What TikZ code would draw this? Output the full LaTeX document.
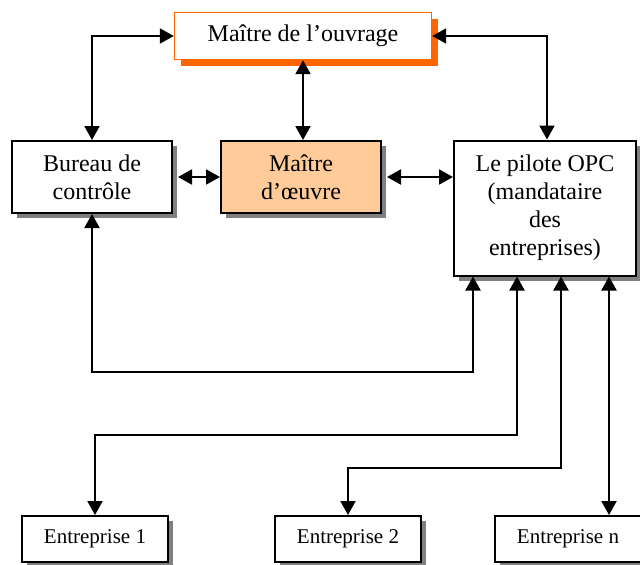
\documentclass[tikz,border=0pt]{standalone}
\usepackage{fontspec}
\setmainfont{Liberation Serif}
\usetikzlibrary{arrows.meta,shadows,positioning}
\definecolor{O}{RGB}{255,102,0}
\definecolor{P}{RGB}{255,204,153}
\definecolor{S}{RGB}{128,128,128}
\tikzstyle{plain} = [rectangle, draw=black, line width=2pt, fill=white,
align=center, inner sep=0pt,
font=\fontsize{24}{28}\selectfont]
\tikzstyle{box} = [plain,
drop shadow={shadow xshift=5pt, shadow yshift=-5pt, fill=S, opacity=1}]
\tikzstyle{topbox} = [plain, draw=O, line width=1.4pt,
drop shadow={shadow xshift=6pt, shadow yshift=-6pt, fill=O, opacity=1}]
\tikzstyle{firm} = [box, font=\fontsize{21}{25}\selectfont,
minimum width=146pt, minimum height=46pt]
\tikzstyle{link} = [<->, line width=2pt]

\begin{document}
\begin{tikzpicture}[x=1pt, y=-1pt, >={Triangle[length=14pt,width=15pt]}]
    \useasboundingbox (0,0) rectangle (640,565);

    \node[topbox, minimum width=257pt, minimum height=47pt] (mo) at (303,36) {Maître de l’ouvrage};
    \node[box, minimum width=160pt, minimum height=72pt] (bc) at (92,177) {Bureau de\\contrôle};
    \node[box, fill=P, minimum width=160pt, minimum height=72pt] (moe) at (301,177) {Maître\\d’œuvre};
    \node[box, minimum width=182pt, minimum height=135pt] (opc) at (545,208) {Le pilote OPC\\(mandataire\\des\\entreprises)};

    \node[firm] (e1) at (95,539) {Entreprise 1};
    \node[firm] (e2) at (348,539) {Entreprise 2};
    \node[firm] (en) at (568,539) {Entreprise n};

    \coordinate (p1) at ([xshift=-72pt]opc.south);
    \coordinate (p2) at ([xshift=-28pt]opc.south);
    \coordinate (p3) at ([xshift=16pt]opc.south);
    \coordinate (p4) at ([xshift=64pt]opc.south);

    \draw[link] (bc.north) |- (mo.west);
    \draw[link] (mo.south) -- (moe.north -| mo.south);
    \draw[link] (mo.east) -| ([xshift=2pt]opc.north);
    \draw[link] ([xshift=5pt]bc.east) -- (moe.west);
    \draw[link] ([xshift=5pt]moe.east) -- (opc.west |- moe.east);

    \draw[link] (bc.south) |- ([yshift=-95pt]p1) -- (p1);
    \draw[link] (p2) -- ([yshift=-158pt]p2) -| (e1.north);
    \draw[link] (p3) -- ([yshift=-191pt]p3) -| (e2.north);
    \draw[link] (p4) -- (p4 |- en.north);
  \end{tikzpicture}
\end{document}
